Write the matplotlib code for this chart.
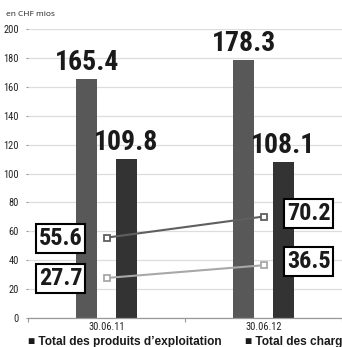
import matplotlib.pyplot as plt
import numpy as np

NARROW = ["Roboto Condensed", "Asap Condensed", "Liberation Sans Narrow", "Liberation Sans", "DejaVu Sans"]
plt.rcParams["font.family"] = NARROW

# dates on the category axis
periods = ["30.06.11", "30.06.12"]

# bar series (CHF mios)
bar_names = ["Total des produits d\u2019exploitation", "Total des charges d\u2019exploitation"]
produits = [165.4, 178.3]
charges = [109.8, 108.1]

# line series (CHF mios)
line_upper = [55.6, 70.2]
line_lower = [27.7, 36.5]

y_ticks = [0, 20, 40, 60, 80, 100, 120, 140, 160, 180, 200]

BAR_COLORS = ["#585858", "#333333"]
LINE_COLORS = ["#5f5f5f", "#a8a8a8"]

fig = plt.figure(figsize=(3.42, 3.47), dpi=100)
ax = fig.add_axes([0.0819, 0.0836, 0.9181, 0.8328])

x = np.arange(len(periods))
bar_w = 0.134
offset = 0.127

bars1 = ax.bar(x - offset, produits, width=bar_w, color=BAR_COLORS[0], zorder=2)
bars2 = ax.bar(x + offset, charges, width=bar_w, color=BAR_COLORS[1], zorder=2)

for bars, vals in [(bars1, produits), (bars2, charges)]:
    for b, v in zip(bars, vals):
        ax.annotate(f"{v:.1f}", xy=(b.get_x() + b.get_width() / 2, v),
                    xytext=(0, 6.5), textcoords="offset points",
                    ha="center", va="baseline", fontsize=20,
                    fontweight="bold", color="#1a1a1a", zorder=5)

for vals, col in [(line_upper, LINE_COLORS[0]), (line_lower, LINE_COLORS[1])]:
    ax.plot(x, vals, color=col, linewidth=1.5, marker="s", markersize=5,
            markerfacecolor="white", markeredgecolor=col, markeredgewidth=1.3,
            zorder=4)
    # value boxes: left of the first point, right of the last one
    for i, v in enumerate(vals):
        dx = -33 if i == 0 else 32.5
        dy = -0.5 if i == 0 else 2.5
        ax.annotate(f"{v:.1f}", xy=(x[i], v), xytext=(dx, dy),
                    textcoords="offset points", ha="center", va="center",
                    fontsize=17.5, fontweight="bold", color="#1a1a1a", zorder=6,
                    bbox=dict(boxstyle="square,pad=0.12", facecolor="white",
                              edgecolor="black", linewidth=1.5))

ax.set_xlim(-0.5, len(periods) - 0.5)
ax.set_ylim(0, 200)
ax.set_yticks(y_ticks)
ax.set_yticklabels([str(t) for t in y_ticks], fontsize=7.5, color="#222222")
ax.tick_params(axis="y", length=1.5, width=0.8, color="#999999", pad=5)
ax.grid(True, axis="y", color="#dddddd", linewidth=0.9, zorder=0)
ax.set_axisbelow(True)

ax.set_xticks(x)
ax.set_xticklabels(periods, fontsize=7.5, color="#222222")
ax.tick_params(axis="x", length=0, pad=3)
ax.set_xticks(np.arange(-0.5, len(periods)), minor=True)
ax.tick_params(axis="x", which="minor", length=3, width=0.8, color="#999999")

for side in ["top", "right", "left"]:
    ax.spines[side].set_visible(False)
ax.spines["bottom"].set_color("#999999")
ax.spines["bottom"].set_linewidth(0.9)

fig.text(6 / 342, 1 - 14 / 347, "en CHF mios", fontsize=6,
         family=["Open Sans", "Liberation Sans", "DejaVu Sans"], color="#222222", va="center")

legend_x = [28 / 342, 245 / 342]
for lx, name in zip(legend_x, bar_names):
    fig.text(lx, 1 - 342 / 347, "\u25a0 " + name, fontsize=8.6, fontweight="bold",
             family=["Liberation Sans", "DejaVu Sans"], color="#1a1a1a", va="center")

fig.savefig("out.png", dpi=100)
